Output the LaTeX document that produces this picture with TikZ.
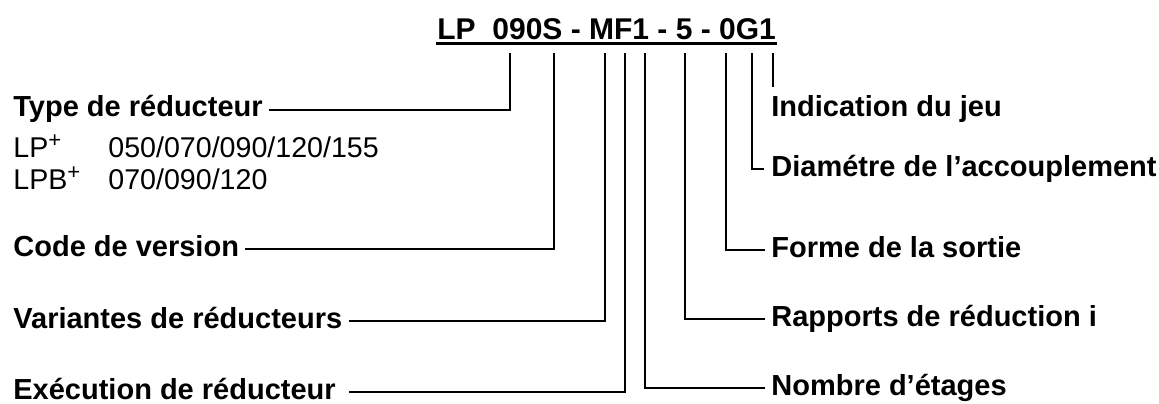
\documentclass[tikz,border=0pt]{standalone}
\usepackage{fontspec}
\setmainfont{Liberation Sans}

\begin{document}
\begin{tikzpicture}[x = 0.5pt, y = -0.5pt, line width = 1.4pt,
	partname/.style = {anchor = base west, inner sep = 0, font = \fontsize{14.5}{17}\selectfont\bfseries},
	partinfo/.style = {anchor = base west, inner sep = 0, font = \fontsize{14.3}{17}\selectfont},
	lead/.style = {line width = 1.4pt}]

% Definitions

\def\xL{12}
\def\xR{770}

\useasboundingbox (0, 0) rectangle (1159, 403);

% Type code with underline

\node [anchor = base west, inner sep = 0, font = \fontsize{15}{18}\selectfont\bfseries] (code) at (436, 39) {LP\ \ 090S - MF1 - 5 - 0G1};
\draw [line width = 1.7pt] ([yshift = -2.2pt] code.base west) -- ([yshift = -2.2pt] code.base east);

% Tops of the leads

\foreach \x / \n in {510/a, 554/b, 605/c, 625/d, 645/e, 685/f, 726/g, 752/h, 773/i}
	\coordinate (t\n) at (\x, 53);

% Left labels

\node [partname] (ntype) at (\xL, 116) {Type de réducteur};
\node [partinfo] (nlp) at (\xL, 157) {LP\raisebox{0.32em}{\fontsize{11}{11}\selectfont +}};
\node [partinfo] (nlpsize) at (107, 157) {050/070/090/120/155};
\node [partinfo] (nlpb) at (\xL, 189) {LPB\raisebox{0.32em}{\fontsize{11}{11}\selectfont +}};
\node [partinfo] (nlpbsize) at (107, 189) {070/090/120};
\node [partname] (nversion) at (\xL, 256) {Code de version\ };
\node [partname] (nvariant) at (\xL, 328) {Variantes de réducteurs};
\node [partname] (nexec) at (\xL, 399) {Exécution de réducteur\ };

% Right labels

\node [partname] (njeu) at (\xR, 116) {Indication du jeu};
\node [partname] (ndia) at (\xR, 176) {Diamétre de l’accouplement};
\node [partname] (nforme) at (\xR, 257) {Forme de la sortie};
\node [partname] (nrapport) at (\xR, 326) {Rapports de réduction i};
\node [partname] (nnombre) at (\xR, 395) {Nombre d’étages};

% Leads to the left

\draw [lead] ([shift = {(5, -6)}] ntype.base east) -| (ta);
\draw [lead] ([shift = {(5, -7)}] nversion.base east) -| (tb);
\draw [lead] ([shift = {(5, -7)}] nvariant.base east) -| (tc);
\draw [lead] ([shift = {(12, -7)}] nexec.base east) -| (td);

% Leads to the right

\draw [lead] (te) |- ([shift = {(-5, -7)}] nnombre.base west);
\draw [lead] (tf) |- ([shift = {(-5, -7)}] nrapport.base west);
\draw [lead] (tg) |- ([shift = {(-5, -7)}] nforme.base west);
\draw [lead] (th) |- ([shift = {(-6, -7)}] ndia.base west);
\coordinate (ti-end) at (773, 87);
\draw [lead] (ti) -- (ti-end);

\end{tikzpicture}
\end{document}
